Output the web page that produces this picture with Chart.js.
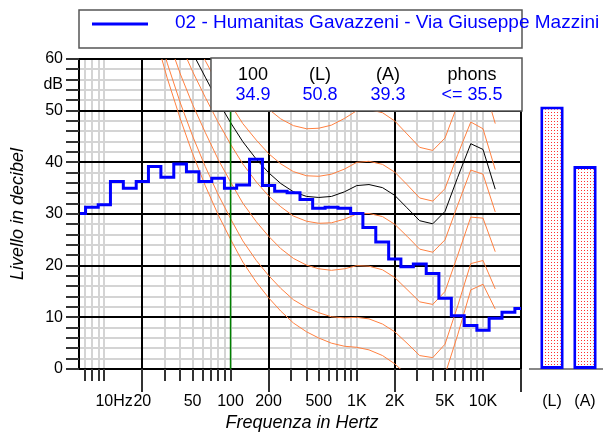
<!DOCTYPE html>
<html>
<head>
<meta charset="utf-8">
<script src="https://cdn.jsdelivr.net/npm/chart.js@4.4.0/dist/chart.umd.min.js"></script>
<style>
  html, body { margin: 0; padding: 0; background: #fff; }
  #wrap { position: relative; width: 603px; height: 434px; overflow: hidden; }
  #main { position: absolute; left: 0; top: 0; }
  #bars { position: absolute; left: 520px; top: 0; }
</style>
</head>
<body>
<div id="wrap">
  <canvas id="main" width="603" height="434"></canvas>
  <canvas id="bars" width="83" height="434"></canvas>
</div>
<script>
// measured spectrum, third-octave bands (Hz / dB)
const seriesName = '02 - Humanitas Gavazzeni - Via Giuseppe Mazzini';
const bandFreqs = [6.3, 8, 10, 12.5, 16, 20, 25, 31.5, 40, 50, 63, 80, 100, 125, 160, 200, 250, 315, 400, 500,
  630, 800, 1000, 1250, 1600, 2000, 2500, 3150, 4000, 5000, 6300, 8000, 10000, 12500, 16000, 20000];
const bandLevels = [30.1, 31.3, 31.8, 36.3, 35.0, 36.3, 39.2, 37.1, 39.7, 38.2, 36.3, 36.9, 35.0, 35.6, 40.6, 35.5, 34.4, 34.1, 32.8, 31.1,
  31.3, 31.1, 30.1, 27.4, 24.6, 21.3, 19.8, 20.3, 18.5, 13.7, 10.3, 8.4, 7.5, 9.8, 11.0, 11.7];

// equal loudness contours (dB at each frequency)
const contourFreqs = [20, 25, 31.5, 40, 50, 63, 80, 100, 125, 160, 200, 250, 315, 400, 500, 630, 800, 1000, 1250, 1600,
  2000, 2500, 3150, 4000, 5000, 6300, 8000, 10000, 12500];
const threshold = [74.3, 65.0, 56.3, 48.4, 41.7, 35.5, 29.8, 25.1, 20.7, 16.8, 13.8, 11.2, 8.9, 7.2, 6.0, 5.0, 4.4, 4.2, 3.7, 2.6,
  1.0, -1.2, -3.6, -3.9, -1.1, 6.6, 15.3, 16.4, 11.6];
const phon10 = [76.8, 67.7, 59.2, 51.5, 45.1, 39.2, 33.7, 29.1, 24.8, 21.0, 18.1, 15.6, 13.4, 11.9, 10.9, 10.1, 9.9, 10.0, 9.7, 8.7,
  7.2, 5.0, 2.6, 2.2, 4.8, 12.2, 20.4, 21.0, 15.5];
const phon20 = [81.3, 72.5, 64.3, 57.1, 51.2, 45.8, 40.5, 36.2, 32.1, 28.5, 25.7, 23.3, 21.4, 20.1, 19.4, 19.1, 19.4, 20.0, 19.9, 19.2,
  17.7, 15.4, 13.0, 12.5, 15.0, 22.0, 29.4, 29.2, 22.7];
const phon30 = [86.0, 77.6, 69.7, 62.9, 57.6, 52.6, 47.7, 43.5, 39.7, 36.2, 33.5, 31.4, 29.6, 28.6, 28.2, 28.3, 29.0, 30.0, 30.1, 29.5,
  28.0, 25.7, 23.2, 22.6, 25.0, 31.7, 38.5, 37.7, 30.4];
const phon40 = [91.0, 82.9, 75.4, 69.0, 64.3, 59.7, 55.0, 51.2, 47.5, 44.3, 41.7, 39.7, 38.2, 37.4, 37.3, 37.7, 38.7, 40.0, 40.2, 39.6,
  38.1, 35.7, 33.1, 32.5, 34.9, 41.5, 47.8, 46.5, 38.6];
const phon50 = [96.2, 88.5, 81.3, 75.4, 71.3, 67.1, 62.7, 59.1, 55.7, 52.7, 50.3, 48.4, 47.1, 46.5, 46.6, 47.2, 48.5, 50.0, 50.2, 49.6,
  48.0, 45.5, 42.9, 42.3, 44.7, 51.2, 57.2, 55.6, 47.5];
// contour of the measured loudness (black)
const phonMeasured = [88.7, 80.5, 72.8, 66.3, 61.2, 56.5, 51.7, 47.7, 44.0, 40.6, 38.0, 35.9, 34.3, 33.4, 33.2, 33.4, 34.3, 35.5, 35.7, 35.1,
  33.6, 31.2, 28.7, 28.1, 30.5, 37.1, 43.6, 42.5, 34.8];

const markerFreq = 100;

// axis ticks
const xMinorGrid = [7, 8, 9, 10, 30, 40, 50, 60, 70, 80, 90, 100, 300, 400, 500, 600, 700, 800, 900, 1000,
  3000, 4000, 5000, 6000, 7000, 8000, 9000, 10000];
const xMajorGrid = [20, 200, 2000, 20000];
const xTickValues = [10, 20, 50, 100, 200, 500, 1000, 2000, 5000, 10000];
const xTickLabels = ['10', '20', '50', '100', '200', '500', '1K', '2K', '5K', '10K'];
const yTickValues = [0, 10, 20, 30, 40, 50, 60];

// summary box and bars
const infoHeads = ['100', '(L)', '(A)', 'phons'];
const infoValues = ['34.9', '50.8', '39.3', '<= 35.5'];
const barLabels = ['(L)', '(A)'];
const barValues = [50.8, 39.3];

const FONT = '"Liberation Sans", Arial, sans-serif';
const ORANGE = '#ff8040';
const BLUE = '#0000ff';

const pts = (xs, ys) => xs.map((f, i) => ({ x: f, y: ys[i] }));
const contour = (data, color, order) => ({
  data: pts(contourFreqs, data), borderColor: color, borderWidth: 1,
  pointRadius: 0, tension: 0, clip: 0, order: order
});

const decor = {
  id: 'decor',
  beforeDatasetsDraw(chart) {
    const { ctx, chartArea: a, scales: { x, y } } = chart;
    ctx.save();
    ctx.lineWidth = 2;
    const vline = (f) => {
      const px = Math.round(x.getPixelForValue(f));
      ctx.beginPath(); ctx.moveTo(px, a.top); ctx.lineTo(px, a.bottom); ctx.stroke();
    };
    const hline = (v) => {
      const py = Math.round(y.getPixelForValue(v));
      ctx.beginPath(); ctx.moveTo(a.left, py); ctx.lineTo(a.right, py); ctx.stroke();
    };
    ctx.strokeStyle = '#d4d4d4';
    xMinorGrid.forEach(vline);
    for (let v = 0; v <= 60; v += 2) if (v % 10) hline(v);
    ctx.strokeStyle = '#000';
    xMajorGrid.forEach(vline);
    yTickValues.forEach(hline);
    ctx.restore();
  },
  afterDatasetsDraw(chart) {
    const { ctx, chartArea: a, scales: { x, y } } = chart;
    ctx.save();
    // axes and tick marks
    ctx.strokeStyle = '#000';
    ctx.lineWidth = 2;
    ctx.beginPath(); ctx.moveTo(a.left, a.top - 1); ctx.lineTo(a.left, a.bottom + 1); ctx.stroke();
    ctx.strokeStyle = '#333';
    for (let v = 0; v <= 60; v += 2) {
      const py = Math.round(y.getPixelForValue(v));
      ctx.beginPath(); ctx.moveTo(a.left - 13, py); ctx.lineTo(a.left, py); ctx.stroke();
    }
    xMinorGrid.forEach(f => {
      const px = Math.round(x.getPixelForValue(f));
      ctx.beginPath(); ctx.moveTo(px, a.bottom); ctx.lineTo(px, a.bottom + 12); ctx.stroke();
    });
    xMajorGrid.forEach(f => {
      const px = Math.round(x.getPixelForValue(f));
      ctx.beginPath(); ctx.moveTo(px, a.bottom); ctx.lineTo(px, a.bottom + 23); ctx.stroke();
    });

    // tick labels
    ctx.fillStyle = '#000';
    ctx.font = '16px ' + FONT;
    ctx.textBaseline = 'middle';
    ctx.textAlign = 'right';
    yTickValues.forEach(v => ctx.fillText(String(v), a.left - 16, y.getPixelForValue(v)));
    ctx.fillText('dB', a.left - 16, y.getPixelForValue(55));
    ctx.textAlign = 'center';
    xTickValues.forEach((f, i) => {
      const px = x.getPixelForValue(f);
      ctx.fillText(xTickLabels[i], px, a.bottom + 33);
      if (i === 0) {
        const w = ctx.measureText(xTickLabels[i]).width;
        ctx.textAlign = 'left';
        ctx.fillText('Hz', px + w / 2, a.bottom + 33);
        ctx.textAlign = 'center';
      }
    });

    // axis titles
    ctx.font = 'italic 18px ' + FONT;
    ctx.fillText('Frequenza in Hertz', 302, 423);
    ctx.save();
    ctx.translate(18, (a.top + a.bottom) / 2);
    ctx.rotate(-Math.PI / 2);
    ctx.fillText('Livello in decibel', 0, 0);
    ctx.restore();

    // summary box
    const bx = 211, by = a.top - 1, bw = a.right - bx + 1, bh = 53;
    ctx.fillStyle = '#fff';
    ctx.fillRect(bx, by, bw, bh);
    ctx.strokeStyle = '#555';
    ctx.lineWidth = 1.5;
    ctx.strokeRect(bx, by, bw, bh);
    const cols = [253, 320, 388, 472];
    ctx.font = '18px ' + FONT;
    infoHeads.forEach((t, i) => { ctx.fillStyle = '#000'; ctx.fillText(t, cols[i], by + 17); });
    infoValues.forEach((t, i) => { ctx.fillStyle = BLUE; ctx.fillText(t, cols[i], by + 37); });

    // legend
    ctx.strokeStyle = '#555';
    ctx.lineWidth = 1.5;
    ctx.strokeRect(a.left, 10, a.right - a.left + 1, 38);
    ctx.strokeStyle = BLUE;
    ctx.lineWidth = 3;
    ctx.beginPath(); ctx.moveTo(92, 24); ctx.lineTo(148, 24); ctx.stroke();
    ctx.fillStyle = BLUE;
    ctx.textAlign = 'left';
    ctx.font = '19px ' + FONT;
    ctx.fillText(seriesName, 175, 23);
    ctx.restore();
  }
};

new Chart(document.getElementById('main'), {
  type: 'line',
  data: {
    datasets: [
      { label: seriesName, data: pts(bandFreqs, bandLevels), borderColor: BLUE, borderWidth: 3,
        stepped: 'middle', pointRadius: 0, clip: 0, order: 0 },
      { label: '100 Hz', data: [{ x: markerFreq, y: 0 }, { x: markerFreq, y: 60 }], borderColor: '#008000',
        borderWidth: 1.5, pointRadius: 0, clip: 0, order: 1 },
      contour(phonMeasured, '#000', 2),
      contour(threshold, ORANGE, 3),
      contour(phon10, ORANGE, 3),
      contour(phon20, ORANGE, 3),
      contour(phon30, ORANGE, 3),
      contour(phon40, ORANGE, 3),
      contour(phon50, ORANGE, 3)
    ]
  },
  options: {
    responsive: false,
    animation: false,
    events: [],
    layout: { padding: { left: 79, top: 59, right: 82, bottom: 65 } },
    plugins: { legend: { display: false }, tooltip: { enabled: false } },
    scales: {
      x: { type: 'logarithmic', min: 6.3, max: 20000, display: false },
      y: { type: 'linear', min: 0, max: 60, display: false }
    }
  },
  plugins: [decor]
});

// dotted fill for the bars
const tile = document.createElement('canvas');
tile.width = 3; tile.height = 3;
const tctx = tile.getContext('2d');
tctx.fillStyle = '#fff';
tctx.fillRect(0, 0, 3, 3);
tctx.fillStyle = '#ff3030';
tctx.fillRect(1, 1, 1, 1);
const dots = tctx.createPattern(tile, 'repeat');

const barDecor = {
  id: 'barDecor',
  beforeDatasetsDraw(chart) {
    const { ctx, chartArea: a, scales: { x } } = chart;
    ctx.save();
    ctx.strokeStyle = '#888';
    ctx.lineWidth = 2;
    ctx.beginPath(); ctx.moveTo(9, a.bottom); ctx.lineTo(chart.width, a.bottom); ctx.stroke();
    ctx.fillStyle = '#000';
    ctx.font = '16px ' + FONT;
    ctx.textAlign = 'center';
    ctx.textBaseline = 'middle';
    barLabels.forEach((t, i) => ctx.fillText(t, x.getPixelForValue(i), a.bottom + 33));
    ctx.restore();
  }
};

new Chart(document.getElementById('bars'), {
  type: 'bar',
  data: {
    labels: barLabels,
    datasets: [{ data: barValues, backgroundColor: dots, borderColor: BLUE, borderWidth: 3,
      borderSkipped: false, barPercentage: 0.71, categoryPercentage: 1 }]
  },
  options: {
    responsive: false,
    animation: false,
    events: [],
    layout: { padding: { left: 15.5, top: 59, right: 1.5, bottom: 65 } },
    plugins: { legend: { display: false }, tooltip: { enabled: false } },
    scales: {
      x: { display: false },
      y: { min: 0, max: 60, display: false }
    }
  },
  plugins: [barDecor]
});
</script>
</body>
</html>
